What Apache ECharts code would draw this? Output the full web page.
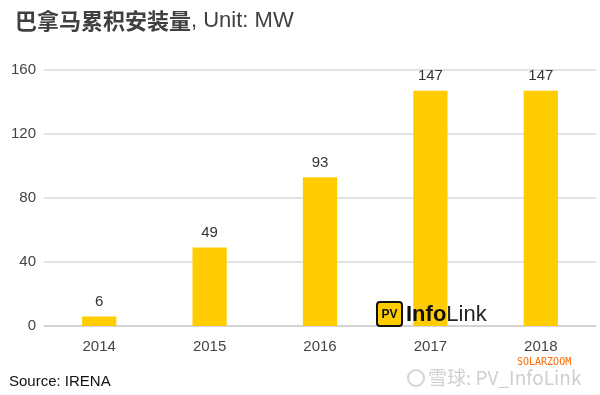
<!DOCTYPE html>
<html><head><meta charset="utf-8">
<script src="https://cdn.jsdelivr.net/npm/echarts@6/dist/echarts.min.js"></script>
<style>html,body{margin:0;padding:0;background:#fff}#c{width:600px;height:395px}</style>
</head><body><div id="c"></div>
<script>
const categories = ['2014', '2015', '2016', '2017', '2018'];
const values = [6, 49, 93, 147, 147];
const yTicks = [0, 40, 80, 120, 160];

const chart = echarts.init(document.getElementById('c'), null, {renderer: 'canvas'});
const font = '"Helvetica Neue", Arial, "Liberation Sans", "Noto Sans CJK SC", sans-serif';
chart.setOption({
  animation: false,
  backgroundColor: '#fff',
  title: {
    left: 10, top: 5,
    text: '{b|巴拿马累积安装量}{r|, Unit: MW}',
    textStyle: {
      rich: {
        b: {fontSize: 22, fontWeight: 'bold', color: '#404040', fontFamily: '"Noto Sans CJK SC", sans-serif'},
        r: {fontSize: 22, fontWeight: 'normal', color: '#404040', fontFamily: font}
      }
    }
  },
  grid: {left: 44, right: 4, top: 70, bottom: 69},
  xAxis: {
    type: 'category', data: categories,
    axisLine: {lineStyle: {color: '#d0d0d0', width: 1.5}},
    axisTick: {show: false},
    axisLabel: {color: '#444', fontSize: 15, margin: 13, fontFamily: font}
  },
  yAxis: {
    type: 'value', min: yTicks[0], max: yTicks[yTicks.length - 1], interval: 40,
    axisLine: {show: false}, axisTick: {show: false},
    axisLabel: {color: '#444', fontSize: 15, margin: 8, fontFamily: font},
    splitLine: {lineStyle: {color: '#d9d9d9', width: 1.5}}
  },
  series: [{
    type: 'bar', data: values, barWidth: '31%',
    itemStyle: {color: '#FFCC00'},
    label: {show: true, position: 'top', distance: 7, color: '#333', fontSize: 15, fontFamily: font}
  }],
  graphic: [
    {type: 'text', z: 100, left: 9, top: 374, style: {text: 'Source: IRENA', fontSize: 15, fill: '#111', fontFamily: font}},
    {type: 'rect', z: 100, shape: {x: 377, y: 302, width: 25, height: 24, r: 3}, style: {fill: '#FFCC00', stroke: '#111', lineWidth: 2}},
    {type: 'text', z: 101, x: 389.5, y: 314.5, style: {text: 'PV', fontSize: 12, fontWeight: 'bold', fill: '#111', align: 'center', verticalAlign: 'middle', fontFamily: font}},
    {type: 'text', z: 101, x: 406, y: 315, style: {
      text: '{a|Info}{b|Link}', verticalAlign: 'middle',
      rich: {a: {fontSize: 22, fontWeight: 'bold', fill: '#111', fontFamily: font}, b: {fontSize: 22, fill: '#222', fontFamily: font}}
    }},
    {type: 'text', z: 100, x: 517, y: 357, style: {text: 'SOLARZOOM', fontSize: 10, fill: '#FF6A00', fontFamily: '"DejaVu Sans Mono", monospace'}},
    {type: 'circle', z: 100, shape: {cx: 416, cy: 378, r: 8}, style: {fill: 'none', stroke: '#d4d4d4', lineWidth: 2}},
    {type: 'text', z: 100, x: 428, y: 378, style: {text: '雪球: PV_InfoLink', fontSize: 19, fill: '#cfcfcf', verticalAlign: 'middle', fontFamily: '"Noto Sans CJK SC", sans-serif'}}
  ]
});
</script></body></html>
